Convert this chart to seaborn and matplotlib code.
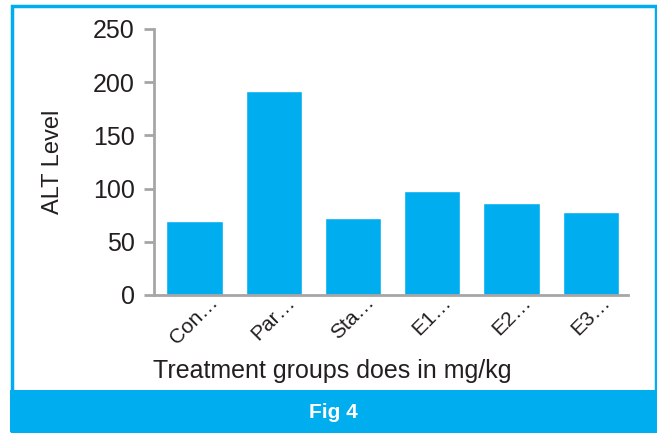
import matplotlib
matplotlib.use("Agg")
import matplotlib.pyplot as plt
import matplotlib.patches as mpatches
import pandas as pd
import seaborn as sns

# chart data
groups = ["Con…", "Par…", "Sta…", "E1…", "E2…", "E3…"]
alt_level = [70, 192, 72, 98, 86, 78]
y_ticks = [0, 50, 100, 150, 200, 250]

cyan = "#00aeef"
grey = "#a6a6a6"
ink = "#231f20"

df = pd.DataFrame({"group": groups, "alt": alt_level})

sns.set_theme(style="white")
plt.rcParams["font.family"] = ["Liberation Sans Narrow", "Liberation Sans", "DejaVu Sans"]

fig = plt.figure(figsize=(6.57, 4.33), dpi=100)
ax = fig.add_axes([154 / 657, 1 - 295 / 433, (628 - 154) / 657, (295 - 29) / 433])

sns.barplot(data=df, x="group", y="alt", color=cyan, saturation=1, width=0.71, ax=ax)

ax.set_ylim(0, 250)
ax.set_xlim(-0.51, 5.47)
ax.set_yticks(y_ticks)
ax.set_yticklabels([str(t) for t in y_ticks], fontsize=18, color=ink)
ax.set_xticks(range(len(groups)))
ax.set_xticklabels(groups, rotation=45, ha="center", fontsize=15, color=ink)
ax.tick_params(axis="y", which="major", left=True, length=7, width=2, color=grey, pad=7)
ax.tick_params(axis="x", bottom=False, pad=-8)

for side in ["top", "right"]:
    ax.spines[side].set_visible(False)
for side in ["left", "bottom"]:
    ax.spines[side].set_color(grey)
    ax.spines[side].set_linewidth(2)

ax.set_ylabel("ALT Level", fontsize=17, color=ink, labelpad=21)
ax.set_xlabel("")
fig.text(153 / 657, 1 - 371 / 433, "Treatment groups does in mg/kg",
         fontsize=18, color=ink, ha="left", va="center")

# frame and caption banner
fig.patches.append(mpatches.Rectangle((11.5 / 657, 1 - 431 / 433), 644 / 657, 425 / 433,
                                      transform=fig.transFigure, fill=False,
                                      edgecolor=cyan, linewidth=2.5))
fig.patches.append(mpatches.Rectangle((10 / 657, 1 - 432 / 433), 647 / 657, 42 / 433,
                                      transform=fig.transFigure, facecolor=cyan,
                                      edgecolor="none"))
fig.text(333 / 657, 1 - 412 / 433, "Fig 4", fontsize=15, fontweight="bold",
         color="white", ha="center", va="center")

fig.savefig("out.png", dpi=100)
